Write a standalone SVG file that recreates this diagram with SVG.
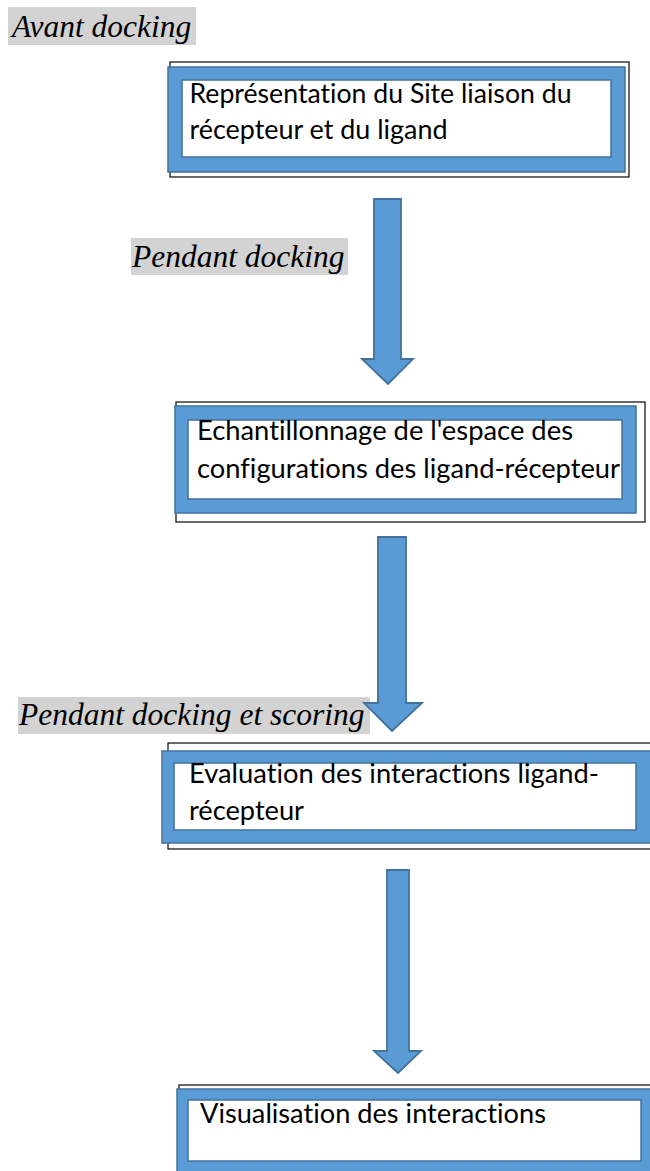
<svg xmlns="http://www.w3.org/2000/svg" width="650" height="1171" viewBox="0 0 650 1171">
  <style>
    .stage-bg { fill: #d3d3d3; }
    .stage { font-family: "Liberation Serif", "Times New Roman", serif; font-style: italic; font-size: 31.5px; fill: #000; }
    .shadow { fill: #fff; stroke: #1a1a1a; stroke-width: 1.3; }
    .frame { fill: #5b9bd5; stroke: #41719c; stroke-width: 1.5; }
    .inner { fill: #fff; stroke: #41719c; stroke-width: 1.5; }
    .label { font-family: Lato, "Open Sans", "Liberation Sans", sans-serif; font-size: 27px; fill: #000; font-variant-ligatures: none; }
    .arrow { fill: #5b9bd5; stroke: #41719c; stroke-width: 1.8; stroke-linejoin: miter; }
  </style>
  <rect width="650" height="1171" fill="#fff"/>

  <!-- stage captions -->
  <g id="stage-avant">
    <rect class="stage-bg" x="8" y="7" width="188" height="38"/>
    <text class="stage" x="12" y="37">Avant docking</text>
  </g>
  <g id="stage-pendant">
    <rect class="stage-bg" x="131" y="238" width="217" height="37"/>
    <text class="stage" x="132" y="267">Pendant docking</text>
  </g>
  <g id="stage-scoring">
    <rect class="stage-bg" x="18" y="697" width="352" height="37"/>
    <text class="stage" x="19" y="725">Pendant docking et scoring</text>
  </g>

  <!-- process steps -->
  <g id="step-site">
    <rect class="shadow" x="170" y="62" width="459" height="115"/>
    <rect class="frame" x="168" y="67" width="457" height="105"/>
    <rect class="inner" x="182" y="80" width="429" height="77"/>
    <text class="label" x="189.5" y="103" textLength="382" lengthAdjust="spacingAndGlyphs">Représentation du Site liaison du</text>
    <text class="label" x="189.5" y="139" textLength="258" lengthAdjust="spacingAndGlyphs">récepteur et du ligand</text>
  </g>
  <g id="step-sampling">
    <rect class="shadow" x="176" y="402" width="469" height="120"/>
    <rect class="frame" x="175" y="406" width="461" height="107"/>
    <rect class="inner" x="188" y="420" width="434" height="79"/>
    <text class="label" x="197" y="440" textLength="376" lengthAdjust="spacingAndGlyphs">Echantillonnage de l'espace des</text>
    <text class="label" x="197" y="478" textLength="423" lengthAdjust="spacingAndGlyphs">configurations des ligand-récepteur</text>
  </g>
  <g id="step-evaluation">
    <rect class="shadow" x="168" y="743" width="492" height="106"/>
    <rect class="frame" x="162" y="751" width="495" height="92"/>
    <rect class="inner" x="174" y="763" width="462" height="67"/>
    <text class="label" x="189" y="783" textLength="410" lengthAdjust="spacingAndGlyphs">Evaluation des interactions ligand-</text>
    <text class="label" x="189" y="820" textLength="115" lengthAdjust="spacingAndGlyphs">récepteur</text>
  </g>
  <g id="step-visualisation">
    <rect class="shadow" x="179" y="1085" width="480" height="100"/>
    <rect class="frame" x="177" y="1089" width="480" height="95"/>
    <rect class="inner" x="188" y="1100" width="453" height="61"/>
    <text class="label" x="200" y="1123" textLength="346" lengthAdjust="spacingAndGlyphs">Visualisation des interactions</text>
  </g>

  <!-- block arrows between steps -->
  <g id="connectors">
    <polygon class="arrow" points="374,199 401,199 401,359 413,359 388,384 362,359 374,359"/>
    <polygon class="arrow" points="378,537 406,537 406,703 422,703 392,731 364,703 378,703"/>
    <polygon class="arrow" points="387,870 409,870 409,1051 421,1051 398,1073 374,1051 387,1051"/>
  </g>
</svg>
